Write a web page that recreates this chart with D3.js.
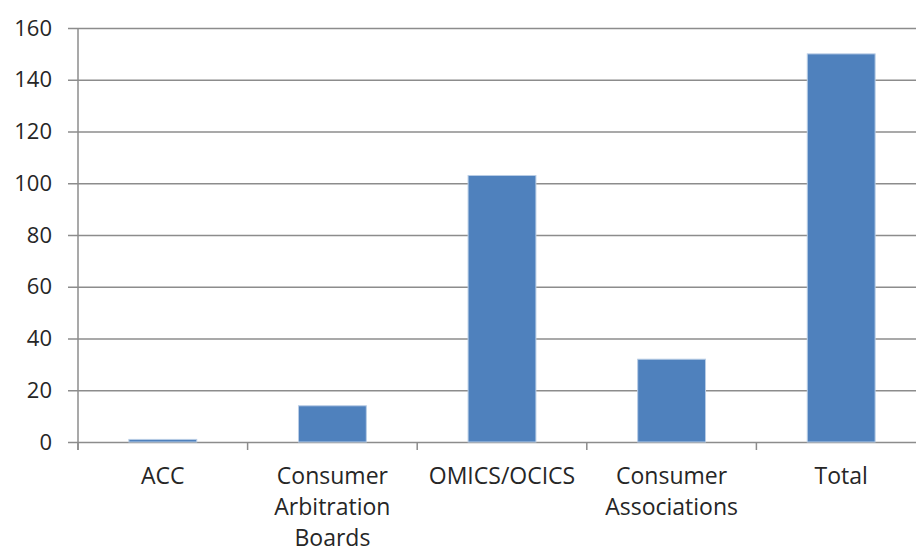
<!DOCTYPE html>
<html>
  <head>
    <style>
      body { margin: 0px; overflow: hidden; background: #fff; }
      text { font-family: "Open Sans", "DejaVu Sans", sans-serif; fill: #262626; }
    </style>
    <script src="https://d3js.org/d3.v7.min.js"></script>
  </head>
  <body>
    <svg width="916" height="552"></svg>
    <script>
      const categories = [
        ['ACC'],
        ['Consumer', 'Arbitration', 'Boards'],
        ['OMICS/OCICS'],
        ['Consumer', 'Associations'],
        ['Total']
      ];
      const values = [1, 14, 103, 32, 150];
      const yTicks = [0, 20, 40, 60, 80, 100, 120, 140, 160];

      const svg = d3.select('svg');
      const plot = { left: 78, right: 926, top: 28, bottom: 442 };

      const x = d3.scaleBand()
        .domain(d3.range(categories.length))
        .range([plot.left, plot.right])
        .paddingInner(0.6)
        .paddingOuter(0.3);

      const y = d3.scaleLinear().domain([0, 160]).range([plot.bottom, plot.top]);

      // gridlines + y labels
      const yAxis = d3.axisLeft(y)
        .tickValues(yTicks)
        .tickSize(-(plot.right - plot.left) - 10)
        .tickPadding(16);
      const gy = svg.append('g')
        .attr('transform', `translate(${plot.left - 10},0)`)
        .call(yAxis);
      gy.select('.domain').remove();
      gy.selectAll('.tick line').attr('stroke', '#8c8c8c').attr('stroke-width', 1.5);
      gy.selectAll('.tick text').attr('font-size', 22).attr('fill', '#262626')
        .attr('font-family', '"Open Sans", "DejaVu Sans", sans-serif');

      // left axis line
      svg.append('line')
        .attr('x1', plot.left).attr('x2', plot.left)
        .attr('y1', plot.top).attr('y2', plot.bottom + 8)
        .attr('stroke', '#8c8c8c').attr('stroke-width', 1.5);

      // category tick marks
      const step = (plot.right - plot.left) / categories.length;
      svg.selectAll('.ctick').data(d3.range(categories.length + 1))
        .enter().append('line')
        .attr('x1', i => plot.left + i * step).attr('x2', i => plot.left + i * step)
        .attr('y1', plot.bottom).attr('y2', plot.bottom + 8)
        .attr('stroke', '#8c8c8c').attr('stroke-width', 1.5);

      // bars
      svg.selectAll('rect.bar').data(values)
        .enter().append('rect')
        .attr('class', 'bar')
        .attr('x', (d, i) => x(i))
        .attr('width', x.bandwidth())
        .attr('y', d => y(d))
        .attr('height', d => plot.bottom - y(d))
        .attr('fill', '#4f81bd')
        .attr('stroke', '#b9cde5')
        .attr('stroke-width', 1);

      // category labels
      const lbl = svg.selectAll('text.cat').data(categories)
        .enter().append('text')
        .attr('class', 'cat')
        .attr('text-anchor', 'middle')
        .attr('font-size', 23)
        .attr('x', (d, i) => x(i) + x.bandwidth() / 2)
        .attr('y', 484);
      lbl.selectAll('tspan').data(d => d)
        .enter().append('tspan')
        .attr('x', function () { return d3.select(this.parentNode).attr('x'); })
        .attr('dy', (d, i) => i === 0 ? 0 : 31)
        .text(d => d);
    </script>
  </body>
</html>
